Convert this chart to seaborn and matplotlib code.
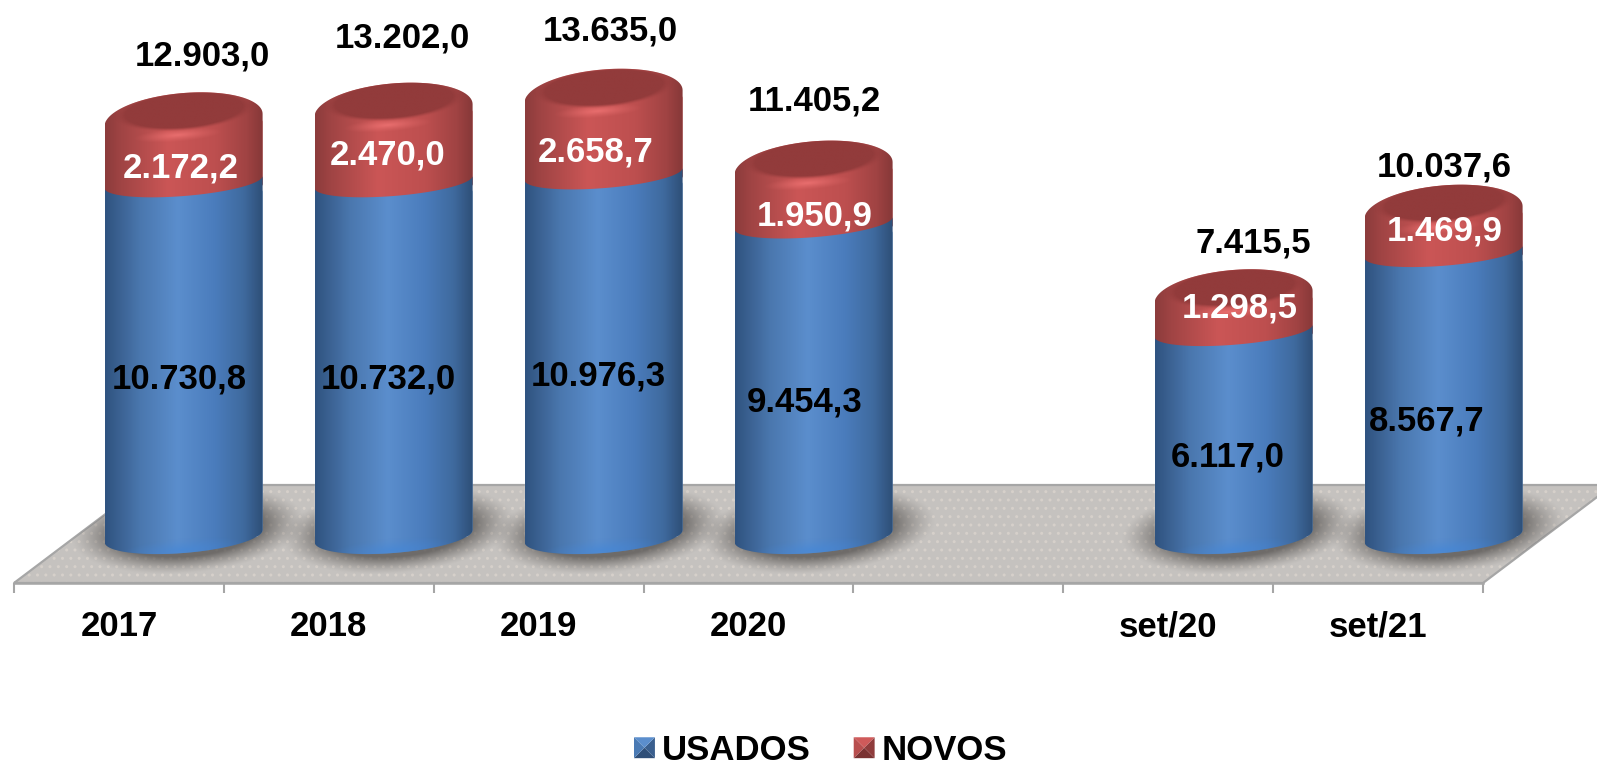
import numpy as np
import pandas as pd
import seaborn as sns
import matplotlib
matplotlib.use("Agg")
import matplotlib.pyplot as plt
from matplotlib.colors import LinearSegmentedColormap
from matplotlib.legend_handler import HandlerBase
from matplotlib.patches import Patch, PathPatch, Polygon
from matplotlib.path import Path

# dados
periodos = ["2017", "2018", "2019", "2020", " ", "set/20", "set/21"]
usados = [10730.8, 10732.0, 10976.3, 9454.3, np.nan, 6117.0, 8567.7]
novos = [2172.2, 2470.0, 2658.7, 1950.9, np.nan, 1298.5, 1469.9]
totais = [12903.0, 13202.0, 13635.0, 11405.2, np.nan, 7415.5, 10037.6]

# deslocamento dos rotulos em pixels (x, y para cima)
desl_usados = [(-4, -16), (-5, -16), (-5, -17), (-9, -18), (0, 0), (-6, -20), (-17, -23)]
desl_novos = [(-3, -13), (-6, -5), (-8, -13), (1, -16), (0, 0), (6, 10), (1, 5)]
desl_totais = [(19, 64), (9, 72), (7, 65), (1, 67), (0, 0), (20, 54), (1, 45)]

sns.set_theme(style="white")
plt.rcParams["font.family"] = ["Liberation Sans", "DejaVu Sans"]

W, H = 1597, 768
PX_CAT = 210.0
PX_VAL = 0.03224
X0, Y0 = 183.6, 536.0
A, B_TOPO, B_MEIO, B_BASE, TILT = 79.0, 27.0, 14.0, 17.0, 0.078

df = pd.DataFrame({"periodo": periodos, "usados": usados, "novos": novos, "total": totais})

fig = plt.figure(figsize=(W / 100, H / 100), dpi=100)
ax = fig.add_axes([0, 0, 1, 1])
ax.patch.set_alpha(0)

sns.barplot(data=df, x="periodo", y="total", order=periodos, color="#c0504d",
            width=158 / PX_CAT, saturation=1, ax=ax, zorder=3)
sns.barplot(data=df, x="periodo", y="usados", order=periodos, color="#4f81bd",
            width=158 / PX_CAT, saturation=1, ax=ax, zorder=3)


def px(x, y):
    # pixel da imagem para coordenadas do eixo
    return (x - X0) / PX_CAT, (Y0 - y) / PX_VAL


xlim = (px(0, 0)[0], px(W, 0)[0])
ylim = (px(0, H)[1], px(0, 0)[1])

cm_azul = LinearSegmentedColormap.from_list("azul", [
    (0, "#2f5380"), (0.08, "#3a6090"), (0.22, "#4a77ae"), (0.46, "#5b8ecd"),
    (0.7, "#4a7cbc"), (0.88, "#3f6a9e"), (1, "#2e4f78")])
cm_verm = LinearSegmentedColormap.from_list("verm", [
    (0, "#8c3c3c"), (0.1, "#a04444"), (0.4, "#cb5656"), (0.7, "#bd4f4f"),
    (0.9, "#a04343"), (1, "#863838")])
grad = np.linspace(0, 1, 200).reshape(1, -1)


def arco(cx, yc, b, t0, t1, n=60):
    # arco da elipse inclinada em coordenadas do eixo
    t = np.linspace(t0, t1, n)
    dx = A * np.cos(t)
    dy = b * np.sin(t) + TILT * dx
    return np.column_stack([cx + dx / PX_CAT, yc + dy / PX_VAL])


def corpo(cx, y_base, y_topo, b_base, b_topo, cheio):
    baixo = arco(cx, y_base, b_base, np.pi, 2 * np.pi)
    if cheio:
        cima = arco(cx, y_topo, b_topo, 0, np.pi)
    else:
        cima = arco(cx, y_topo, b_topo, 2 * np.pi, np.pi)
    pts = np.vstack([baixo, cima, baixo[:1]])
    return Path(pts)


def pintar(path, cx, y_ini, y_fim, cmap, z):
    im = ax.imshow(grad, cmap=cmap, aspect="auto", zorder=z, interpolation="bilinear",
                   extent=[cx - A / PX_CAT, cx + A / PX_CAT, y_ini, y_fim])
    im.set_clip_path(PathPatch(path, transform=ax.transData))


def mancha(a, b, rgb, alfa, borda):
    # elipse inclinada de borda suave, como imagem RGBA
    ny, nx = 120, 200
    yy, xx = np.mgrid[1.3:-1.3:complex(ny), -1.3:1.3:complex(nx)]
    dx = xx * a
    dy = yy * (b + TILT * a) - TILT * dx
    d = np.sqrt((dx / a) ** 2 + (dy / b) ** 2)
    img = np.zeros((ny, nx, 4))
    img[..., 0:3] = rgb
    img[..., 3] = alfa * np.clip((1 - d) / borda, 0, 1) ** 1.3
    return img, 1.3 * a, 1.3 * (b + TILT * a)


def por_mancha(spec, cx, y, dx_px, dy_px, z, path):
    img, ex, ey = spec
    x_c = cx + dx_px / PX_CAT
    y_c = y + dy_px / PX_VAL
    im = ax.imshow(img, aspect="auto", zorder=z, interpolation="bilinear",
                   extent=[x_c - ex / PX_CAT, x_c + ex / PX_CAT, y_c - ey / PX_VAL, y_c + ey / PX_VAL])
    im.set_clip_path(PathPatch(path, transform=ax.transData))


# piso
pa = [px(14, 583), px(1483, 583), px(1613, 485), px(144, 485)]
p_piso = Path(list(pa) + [pa[0]])
ax.add_patch(Polygon(pa, closed=True, facecolor="#c5c2bf", edgecolor="#d6d0ca", hatch="..",
                     linewidth=0, zorder=0))
ax.add_patch(Polygon(pa, closed=True, fill=False, edgecolor="#a6a6a6", linewidth=1.6, zorder=1))

m_sombra = mancha(118, 44, (0.3, 0.29, 0.28), 0.72, 0.38)
m_tampa = mancha(70, 20, (0x92 / 255, 0x3b / 255, 0x3b / 255), 1.0, 0.16)
m_brilho = mancha(46, 7, (0.96, 0.47, 0.47), 0.75, 1.0)
m_base = mancha(70, 12, (0.27, 0.53, 0.85), 0.7, 1.0)

# cilindros a partir das barras do seaborn
OFF_MEIO = 8 / PX_VAL
for r_tot, r_us in zip(ax.containers[0], ax.containers[1]):
    h_tot, h_us = r_tot.get_height(), r_us.get_height()
    if not np.isfinite(h_tot) or h_tot == 0:
        continue
    cx = r_tot.get_x() + r_tot.get_width() / 2
    y_meio = h_us + OFF_MEIO

    por_mancha(m_sombra, cx, 0, 5, 6, 1, p_piso)

    p_verm = corpo(cx, h_us, h_tot, B_MEIO, B_TOPO, True)
    p_azul = corpo(cx, 0, y_meio, B_BASE, B_MEIO, False)
    r_tot.set_clip_path(PathPatch(p_verm, transform=ax.transData))
    r_us.set_clip_path(PathPatch(p_azul, transform=ax.transData))
    pintar(p_verm, cx, h_us - 60 / PX_VAL, h_tot + 60 / PX_VAL, cm_verm, 4)
    pintar(p_azul, cx, -60 / PX_VAL, y_meio + 60 / PX_VAL, cm_azul, 5)

    por_mancha(m_base, cx, 0, 0, -14, 6, p_azul)
    por_mancha(m_brilho, cx, h_tot, -6, -15, 4.5, p_verm)
    por_mancha(m_tampa, cx, h_tot, 0, 9, 4.6, p_verm)

ax.set_xlim(*xlim)
ax.set_ylim(*ylim)
ax.axis("off")

# rotulos
for i in range(len(periodos)):
    if not np.isfinite(totais[i]):
        continue
    base = usados[i] / 2
    topo = usados[i] + novos[i] / 2
    for val, y, off, cor in [(usados[i], base, desl_usados[i], "black"),
                             (novos[i], topo, desl_novos[i], "white"),
                             (totais[i], totais[i], desl_totais[i], "black")]:
        txt = f"{val:,.1f}".replace(",", "#").replace(".", ",").replace("#", ".")
        ax.annotate(txt, (i, y), xytext=(off[0] * 0.72, off[1] * 0.72), textcoords="offset points",
                    ha="center", va="center", fontsize=25, fontweight="bold", color=cor,
                    zorder=10, annotation_clip=False)

# eixo da frente com os periodos
ax2 = fig.add_axes([14 / W, (H - 583) / H, 1469 / W, 98 / H])
ax2.patch.set_alpha(0)
ax2.set_xlim(-0.5, len(periodos) - 0.5)
ax2.set_ylim(0, 1)
ax2.set_yticks([])
ax2.set_xticks(np.arange(len(periodos) + 1) - 0.5)
ax2.set_xticklabels([])
ax2.set_xticks(np.arange(len(periodos)), labels=periodos, minor=True)
ax2.tick_params(axis="x", which="major", length=7.5, width=1.5, color="#a6a6a6", bottom=True)
ax2.tick_params(axis="x", which="minor", length=0, pad=19.5, labelsize=25)
for lab in ax2.get_xticklabels(minor=True):
    lab.set_fontweight("bold")
    lab.set_color("black")
for lado in ["top", "left", "right"]:
    ax2.spines[lado].set_visible(False)
ax2.spines["bottom"].set_color("#a6a6a6")
ax2.spines["bottom"].set_linewidth(1.8)


# legenda com o marcador em piramide
class HandlerPiramide(HandlerBase):
    def create_artists(self, legend, orig, xd, yd, w, h, fontsize, trans):
        cores = orig.cores
        xa, ya = -xd, -yd
        s = max(w, h)
        ya = ya + (h - s) / 2
        c = (xa + s / 2, ya + s / 2)
        cantos = [(xa, ya), (xa + s, ya), (xa + s, ya + s), (xa, ya + s)]
        arts = []
        for k in range(4):
            arts.append(Polygon([cantos[k], cantos[(k + 1) % 4], c], closed=True,
                                facecolor=cores[k], edgecolor="none", transform=trans))
        return arts


h_us = Patch(label="USADOS")
h_us.cores = ["#2f4f78", "#3a5f8e", "#5b8ecd", "#4a7ab4"]
h_nv = Patch(label="NOVOS")
h_nv.cores = ["#7a3232", "#8f3c3c", "#cf5a5a", "#b84e4e"]
leg = fig.legend(handles=[h_us, h_nv], loc="lower left", bbox_to_anchor=(634 / W, 1 / H), ncol=2,
                 frameon=False, borderpad=0, borderaxespad=0, handlelength=0.55,
                 handleheight=0.55, handletextpad=0.25, columnspacing=1.24, labelcolor="black",
                 handler_map={Patch: HandlerPiramide()},
                 prop={"weight": "bold", "size": 25})

fig.savefig("out.png", dpi=100)
